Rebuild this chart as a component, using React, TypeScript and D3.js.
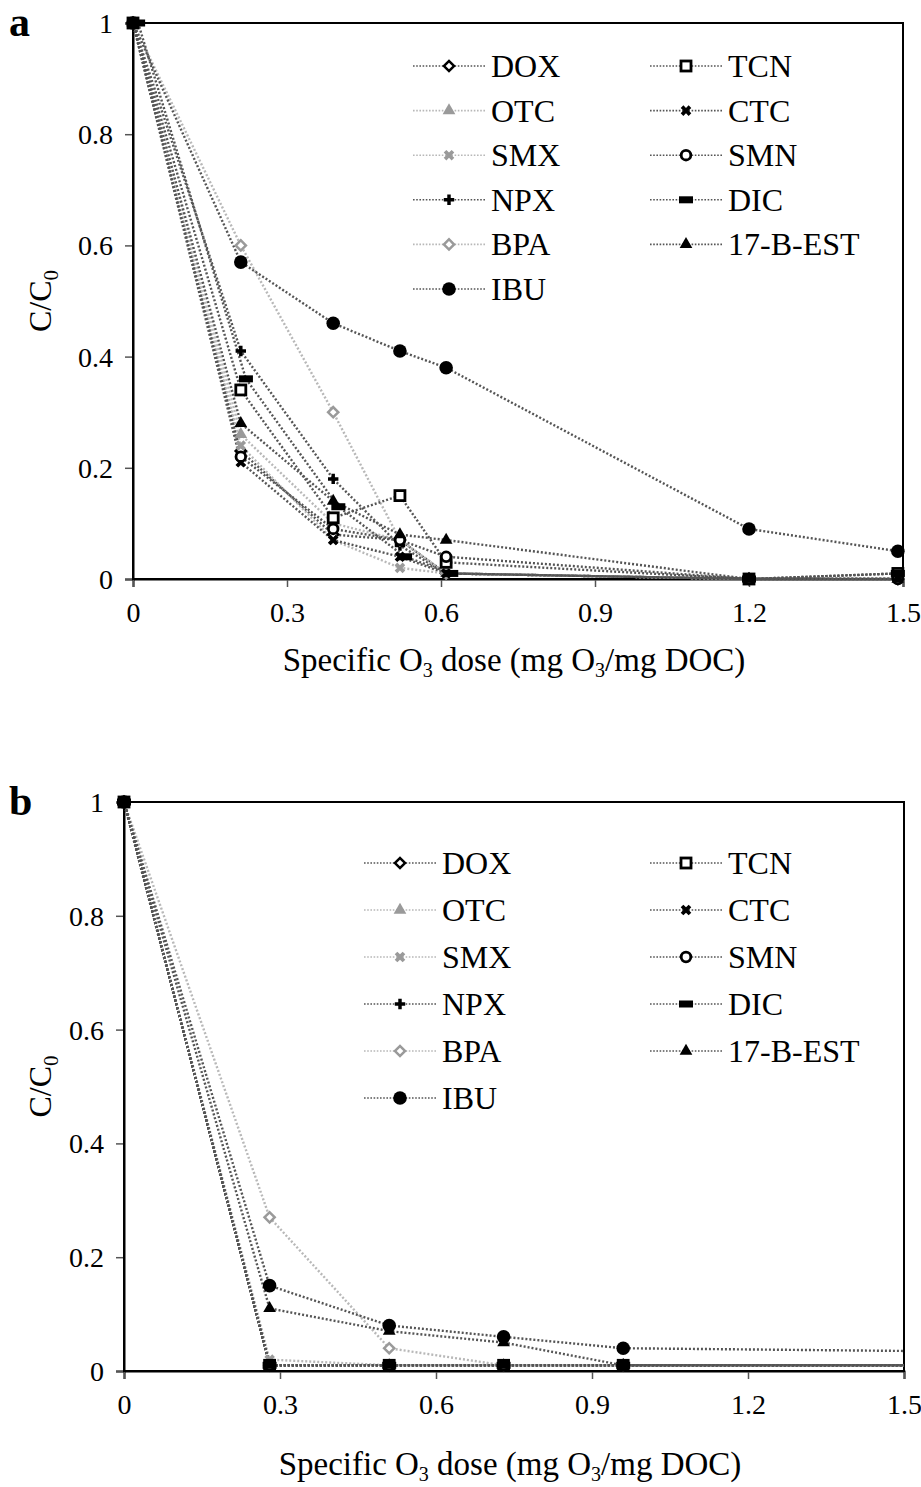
import React, { useEffect, useRef } from 'react';
import * as d3 from 'd3';

// legend layout order (two columns)
const legendCol1 = ['DOX', 'OTC', 'SMX', 'NPX', 'BPA', 'IBU'];
const legendCol2 = ['TCN', 'CTC', 'SMN', 'DIC', '17-B-EST'];

const xTicks = [0, 0.3, 0.6, 0.9, 1.2, 1.5];
const yTicks = [0, 0.2, 0.4, 0.6, 0.8, 1];

// Panel a: specific O3 dose (mg O3/mg DOC)
const doseA = [0, 0.21, 0.39, 0.52, 0.61, 1.2, 1.49];
const doseA_DIC = [0.01, 0.22, 0.4, 0.53, 0.62, 1.2, 1.49];

const doxA = [1, 0.23, 0.08, 0.07, 0.01, 0, 0];
const otcA = [1, 0.26, 0.1, 0.07, 0.01, 0, 0];
const smxA = [1, 0.24, 0.07, 0.02, 0.01, 0, 0];
const npxA = [1, 0.41, 0.18, 0.06, 0.01, 0, 0];
const bpaA = [1, 0.6, 0.3, 0.07, 0.01, 0, 0];
const ibuA = [1, 0.57, 0.46, 0.41, 0.38, 0.09, 0.05];
const tcnA = [1, 0.34, 0.11, 0.15, 0.03, 0, 0.01];
const ctcA = [1, 0.21, 0.07, 0.04, 0.01, 0, 0];
const smnA = [1, 0.22, 0.09, 0.07, 0.04, 0, 0];
const dicA = [1, 0.36, 0.13, 0.04, 0.01, 0, 0.01];
const estA = [1, 0.28, 0.14, 0.08, 0.07, 0, 0];

// Panel b (last dose lies beyond the axis and is clipped)
const doseB = [0, 0.28, 0.51, 0.73, 0.96, 2.1];

const doxB = [1, 0.01, 0.01, 0.01, 0.01, 0.01];
const otcB = [1, 0.01, 0.01, 0.01, 0.01, 0.01];
const smxB = [1, 0.02, 0.01, 0.01, 0.01, 0.01];
const npxB = [1, 0.01, 0.01, 0.01, 0.01, 0.01];
const bpaB = [1, 0.27, 0.04, 0.01, 0.01, 0.01];
const ibuB = [1, 0.15, 0.08, 0.06, 0.04, 0.03];
const tcnB = [1, 0.01, 0.01, 0.01, 0.01, 0.01];
const ctcB = [1, 0.01, 0.01, 0.01, 0.01, 0.01];
const smnB = [1, 0.01, 0.01, 0.01, 0.01, 0.01];
const dicB = [1, 0.01, 0.01, 0.01, 0.01, 0.01];
const estB = [1, 0.11, 0.07, 0.05, 0.01, 0.01];

type Shape = 'diamond' | 'triangle' | 'times' | 'plus' | 'circle' | 'ocircle' | 'square' | 'dash';

const DARK_LINE = '#555';
const LIGHT_LINE = '#b8b8b8';
const GRAY = '#9a9a9a';

const styles: Record<string, { shape: Shape; color: string; line: string }> = {
  DOX: { shape: 'diamond', color: '#000', line: DARK_LINE },
  OTC: { shape: 'triangle', color: GRAY, line: LIGHT_LINE },
  SMX: { shape: 'times', color: GRAY, line: LIGHT_LINE },
  NPX: { shape: 'plus', color: '#000', line: DARK_LINE },
  BPA: { shape: 'diamond', color: GRAY, line: LIGHT_LINE },
  IBU: { shape: 'circle', color: '#000', line: DARK_LINE },
  TCN: { shape: 'square', color: '#000', line: DARK_LINE },
  CTC: { shape: 'times', color: '#000', line: DARK_LINE },
  SMN: { shape: 'ocircle', color: '#000', line: DARK_LINE },
  DIC: { shape: 'dash', color: '#000', line: DARK_LINE },
  '17-B-EST': { shape: 'triangle', color: '#000', line: DARK_LINE },
};

const FONT = '"Liberation Serif", "Times New Roman", serif';

interface Series { name: string; x: number[]; y: number[] }

const seriesA: Series[] = [
  { name: 'DOX', x: doseA, y: doxA },
  { name: 'OTC', x: doseA, y: otcA },
  { name: 'SMX', x: doseA, y: smxA },
  { name: 'NPX', x: doseA, y: npxA },
  { name: 'BPA', x: doseA, y: bpaA },
  { name: 'TCN', x: doseA, y: tcnA },
  { name: 'CTC', x: doseA, y: ctcA },
  { name: 'SMN', x: doseA, y: smnA },
  { name: 'DIC', x: doseA_DIC, y: dicA },
  { name: '17-B-EST', x: doseA, y: estA },
  { name: 'IBU', x: doseA, y: ibuA },
];

const seriesB: Series[] = [
  { name: 'DOX', x: doseB, y: doxB },
  { name: 'OTC', x: doseB, y: otcB },
  { name: 'SMX', x: doseB, y: smxB },
  { name: 'NPX', x: doseB, y: npxB },
  { name: 'BPA', x: doseB, y: bpaB },
  { name: 'TCN', x: doseB, y: tcnB },
  { name: 'CTC', x: doseB, y: ctcB },
  { name: 'SMN', x: doseB, y: smnB },
  { name: 'DIC', x: doseB, y: dicB },
  { name: '17-B-EST', x: doseB, y: estB },
  { name: 'IBU', x: doseB, y: ibuB },
];

function drawMarker(g: d3.Selection<SVGGElement, unknown, null, undefined>, shape: Shape, color: string, cx: number, cy: number) {
  const t = `translate(${cx},${cy})`;
  switch (shape) {
    case 'diamond':
      g.append('rect').attr('x', -3.6).attr('y', -3.6).attr('width', 7.2).attr('height', 7.2)
        .attr('transform', `${t} rotate(45)`)
        .attr('fill', '#fff').attr('stroke', color).attr('stroke-width', 2.5);
      break;
    case 'triangle':
      g.append('path').attr('d', d3.symbol(d3.symbolTriangle, 70)()).attr('transform', t).attr('fill', color);
      break;
    case 'times':
      g.append('path').attr('d', d3.symbol(d3.symbolCross, 70)()).attr('transform', `${t} rotate(45)`).attr('fill', color);
      break;
    case 'plus':
      g.append('path').attr('d', d3.symbol(d3.symbolCross, 60)()).attr('transform', t).attr('fill', color);
      break;
    case 'circle':
      g.append('circle').attr('cx', cx).attr('cy', cy).attr('r', 6.8).attr('fill', color);
      break;
    case 'ocircle':
      g.append('circle').attr('cx', cx).attr('cy', cy).attr('r', 4.8).attr('fill', '#fff')
        .attr('stroke', color).attr('stroke-width', 2.8);
      break;
    case 'square':
      g.append('rect').attr('x', cx - 5).attr('y', cy - 5).attr('width', 10).attr('height', 10)
        .attr('fill', '#fff').attr('stroke', color).attr('stroke-width', 2.8);
      break;
    case 'dash':
      g.append('rect').attr('x', cx - 7).attr('y', cy - 3.5).attr('width', 14).attr('height', 7).attr('fill', color);
      break;
  }
}

interface PanelConfig {
  id: string;
  label: string;
  series: Series[];
  x0: number; x1: number; yTop: number; yBottom: number;
  legendCol1X: number; legendCol2X: number; legendY: number; legendStep: number;
  titleOffset: number;
}

function drawPanel(svg: d3.Selection<SVGSVGElement, unknown, null, undefined>, cfg: PanelConfig) {
  const x = d3.scaleLinear().domain([0, 1.5]).range([cfg.x0, cfg.x1]);
  const y = d3.scaleLinear().domain([0, 1]).range([cfg.yBottom, cfg.yTop]);
  const root = svg.append('g');

  // clip
  root.append('clipPath').attr('id', `clip-${cfg.id}`)
    .append('rect').attr('x', cfg.x0).attr('y', cfg.yTop - 10)
    .attr('width', cfg.x1 - cfg.x0).attr('height', cfg.yBottom - cfg.yTop + 20);

  // axes
  const yAxis = root.append('g').attr('transform', `translate(${cfg.x0},0)`)
    .call(d3.axisLeft(y).tickValues(yTicks).tickSize(8).tickPadding(12)
      .tickFormat(d => String(+(d as number).toFixed(1))));
  const xAxis = root.append('g').attr('transform', `translate(0,${cfg.yBottom})`)
    .call(d3.axisBottom(x).tickValues(xTicks).tickSize(8).tickPadding(15)
      .tickFormat(d => String(+(d as number).toFixed(1))));
  [xAxis, yAxis].forEach(a => {
    a.attr('font-family', FONT).attr('font-size', 28);
    a.select('.domain').attr('stroke', '#000').attr('stroke-width', 2);
    a.selectAll('.tick line').attr('stroke', '#555').attr('stroke-width', 1.5);
    a.selectAll('.tick text').attr('fill', '#000');
  });
  yAxis.selectAll('.tick text').attr('dy', '0.34em');

  // frame
  root.append('rect').attr('x', cfg.x0).attr('y', cfg.yTop)
    .attr('width', cfg.x1 - cfg.x0).attr('height', cfg.yBottom - cfg.yTop)
    .attr('fill', 'none').attr('stroke', '#000').attr('stroke-width', 2);

  // lines
  const line = d3.line<[number, number]>().x(d => x(d[0])).y(d => y(d[1]));
  const plot = root.append('g').attr('clip-path', `url(#clip-${cfg.id})`);
  cfg.series.forEach(s => {
    const st = styles[s.name];
    const pts = s.x.map((v, i) => [v, s.y[i]] as [number, number]);
    plot.append('path').datum(pts).attr('d', line).attr('fill', 'none')
      .attr('stroke', st.line).attr('stroke-width', 2.4).attr('stroke-dasharray', '2,2');
  });
  const marks = root.append('g');
  cfg.series.forEach(s => {
    const st = styles[s.name];
    s.x.forEach((v, i) => {
      if (v > 1.5) return;
      drawMarker(marks, st.shape, st.color, x(v), y(s.y[i]));
    });
  });

  // legend
  const legend = root.append('g');
  const legendItem = (name: string, cx: number, cy: number) => {
    const st = styles[name];
    legend.append('line').attr('x1', cx - 36).attr('x2', cx + 36).attr('y1', cy).attr('y2', cy)
      .attr('stroke', st.line).attr('stroke-width', 1.6).attr('stroke-dasharray', '1.6,1.6');
    drawMarker(legend, st.shape, st.color, cx, cy);
    legend.append('text').attr('x', cx + 42).attr('y', cy + 11)
      .attr('font-family', FONT).attr('font-size', 32).attr('fill', '#000').text(name);
  };
  legendCol1.forEach((n, i) => legendItem(n, cfg.legendCol1X, cfg.legendY + i * cfg.legendStep));
  legendCol2.forEach((n, i) => legendItem(n, cfg.legendCol2X, cfg.legendY + i * cfg.legendStep));

  // axis titles
  const xt = root.append('text').attr('x', (cfg.x0 + cfg.x1) / 2 - 4).attr('y', cfg.yBottom + cfg.titleOffset)
    .attr('text-anchor', 'middle').attr('font-family', FONT).attr('font-size', 33).attr('fill', '#000');
  xt.append('tspan').text('Specific O');
  xt.append('tspan').text('3').attr('font-size', 20).attr('dy', 6);
  xt.append('tspan').text(' dose (mg O').attr('dy', -6);
  xt.append('tspan').text('3').attr('font-size', 20).attr('dy', 6);
  xt.append('tspan').text('/mg DOC)').attr('dy', -6);

  const yc = (cfg.yTop + cfg.yBottom) / 2;
  const yt = root.append('text').attr('transform', `translate(51,${yc}) rotate(-90)`)
    .attr('text-anchor', 'middle').attr('font-family', FONT).attr('font-size', 32).attr('fill', '#000');
  yt.append('tspan').text('C/C');
  yt.append('tspan').text('0').attr('font-size', 21).attr('dy', 7);

  // panel label
  root.append('text').attr('x', 9).attr('y', cfg.yTop + 13).attr('font-family', FONT)
    .attr('font-size', 42).attr('font-weight', 'bold').attr('fill', '#000').text(cfg.label);
}

const App: React.FC = () => {
  const svgRef = useRef<SVGSVGElement>(null);

  useEffect(() => {
    if (!svgRef.current) return;
    const svg = d3.select(svgRef.current);
    svg.selectAll('*').remove();

    drawPanel(svg, {
      id: 'a', label: 'a', series: seriesA,
      x0: 133, x1: 903, yTop: 23, yBottom: 579,
      legendCol1X: 449, legendCol2X: 686, legendY: 66, legendStep: 44.6,
      titleOffset: 92,
    });
    drawPanel(svg, {
      id: 'b', label: 'b', series: seriesB,
      x0: 124, x1: 904, yTop: 802, yBottom: 1371,
      legendCol1X: 400, legendCol2X: 686, legendY: 863, legendStep: 47,
      titleOffset: 104,
    });
  }, []);

  return (
    <svg ref={svgRef} width={921} height={1487}
      style={{ position: 'absolute', left: 0, top: 0, background: '#fff' }} />
  );
};

export default App;
